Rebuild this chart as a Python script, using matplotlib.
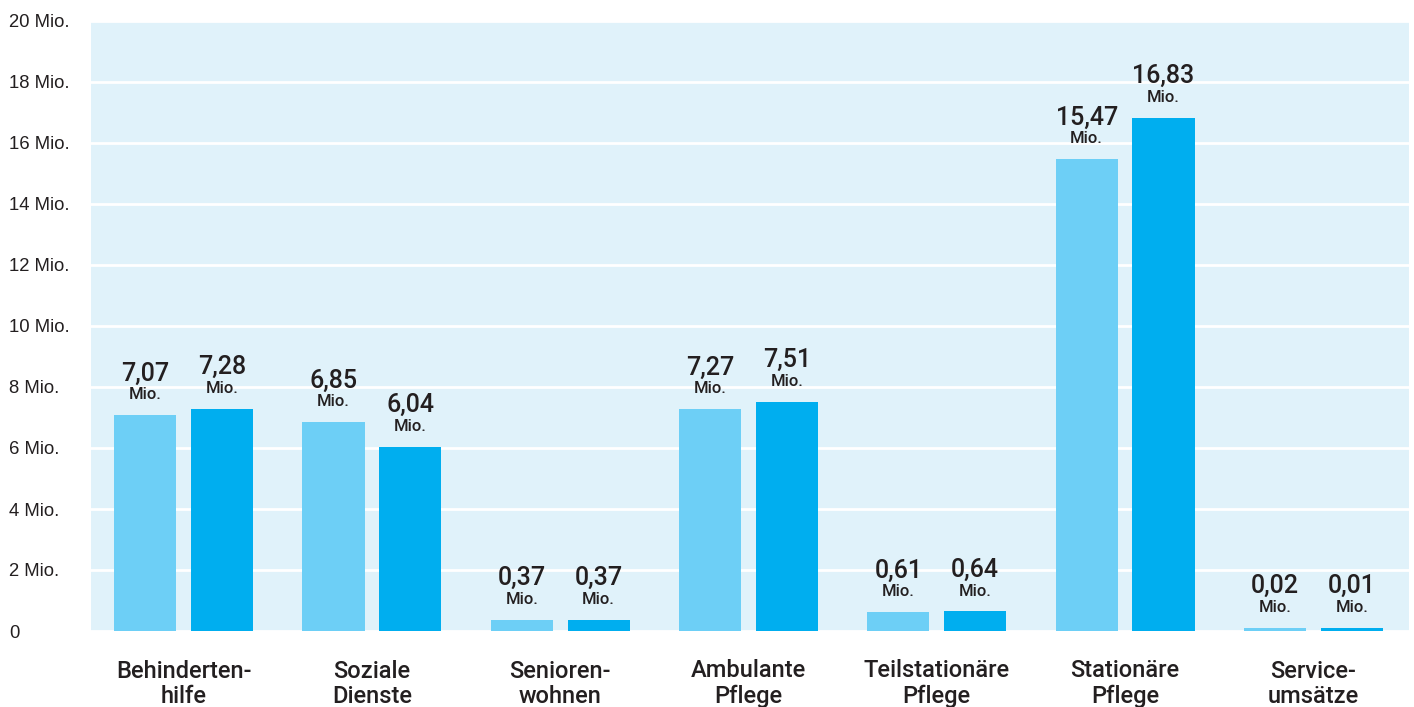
import matplotlib
matplotlib.use("Agg")
import matplotlib.pyplot as plt
import numpy as np

categories = ["Behinderten-\nhilfe", "Soziale\nDienste", "Senioren-\nwohnen", "Ambulante\nPflege",
              "Teilstationäre\nPflege", "Stationäre\nPflege", "Service-\numsätze"]
series_a = [7.07, 6.85, 0.37, 7.27, 0.61, 15.47, 0.02]
series_b = [7.28, 6.04, 0.37, 7.51, 0.64, 16.83, 0.01]
yticks = [0, 2, 4, 6, 8, 10, 12, 14, 16, 18, 20]
ytick_labels = ["0"] + [f"{v} Mio." for v in yticks[1:]]

color_a = "#6dcff6"
color_b = "#00aeef"
bg = "#e0f2fa"
txt = "#231f20"

plt.rcParams['font.family'] = ['Liberation Sans', 'DejaVu Sans']
medium = ['Roboto', 'Liberation Sans', 'DejaVu Sans']

W, H = 1414, 707
fig = plt.figure(figsize=(W / 100, H / 100), dpi=100)
ax = fig.add_axes([91 / W, 76 / H, (1409 - 91) / W, (631 - 21) / H])
ax.set_facecolor(bg)
for s in ax.spines.values():
    s.set_visible(False)

x = np.arange(len(categories))
w = 0.33
off = 0.204
shift = -0.008
min_h = 0.1
ha_ = np.maximum(series_a, min_h)
hb_ = np.maximum(series_b, min_h)
ax.bar(x - off + shift, ha_, width=w, color=color_a, zorder=3)
ax.bar(x + off + shift, hb_, width=w, color=color_b, zorder=3)

ax.set_xlim(-0.5, len(categories) - 0.5)
ax.set_ylim(0, 20)
ax.set_yticks(yticks)
ax.set_yticklabels(ytick_labels)
ax.tick_params(axis='y', length=0, pad=59, labelsize=13.3, labelcolor=txt)
for lab in ax.get_yticklabels():
    lab.set_horizontalalignment('left')
ax.set_xticks([])
ax.grid(axis='y', color='white', linewidth=2, zorder=1)

def fmt(v):
    return f"{v:.2f}".replace(".", ",")

for xs, vals, hs in ((x - off + shift, series_a, ha_), (x + off + shift, series_b, hb_)):
    for xi, v, h in zip(xs, vals, hs):
        ax.annotate("Mio.", xy=(xi, h), xytext=(0, 11.5), textcoords='offset points',
                    ha='center', va='baseline', fontsize=12, color=txt, zorder=4,
                    family=medium, fontweight='medium')
        ax.annotate(fmt(v), xy=(xi, h), xytext=(0, 25), textcoords='offset points',
                    ha='center', va='baseline', fontsize=18, color=txt, zorder=4,
                    family=medium, fontweight='medium')

for xi, c in zip(x + shift, categories):
    ax.annotate(c, xy=(xi, 0), xycoords=('data', 'axes fraction'), xytext=(0, -52),
                textcoords='offset points', ha='center', va='baseline', fontsize=17,
                color=txt, linespacing=1.15, annotation_clip=False,
                family=medium, fontweight='medium')

fig.savefig("out.png", dpi=100)
